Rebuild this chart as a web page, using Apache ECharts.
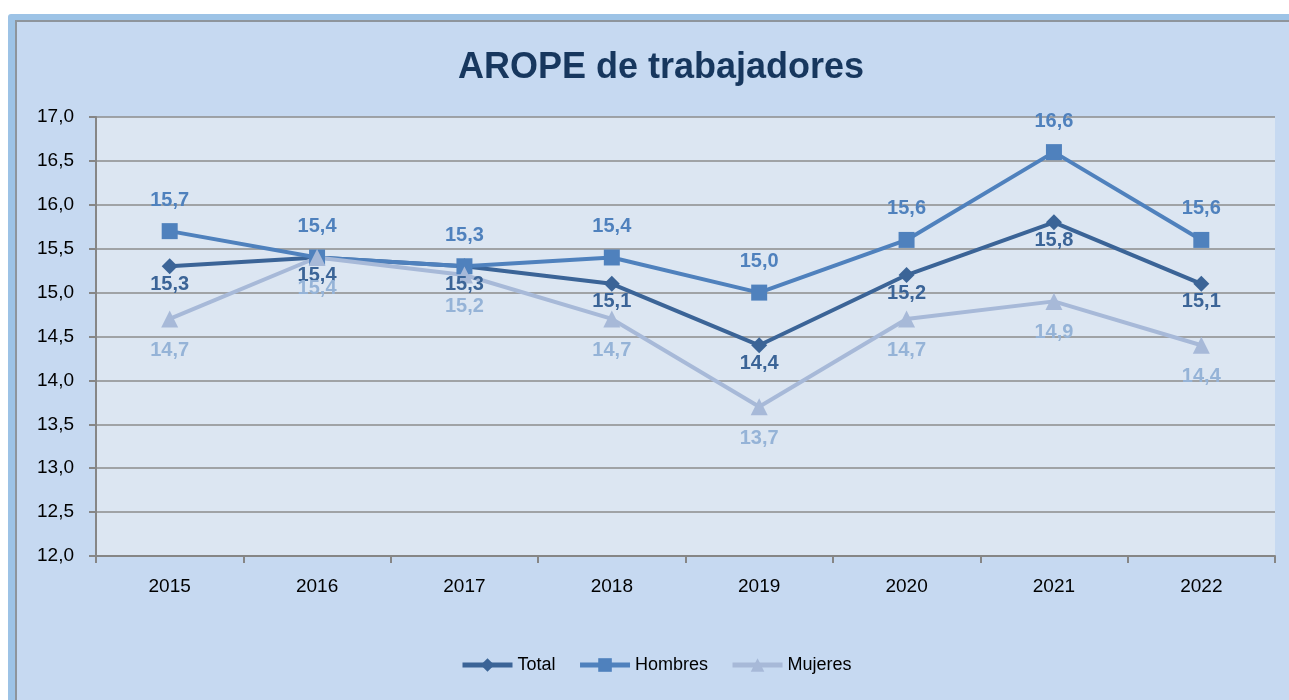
<!DOCTYPE html>
<html>
<head>
<meta charset="utf-8">
<script src="https://cdn.jsdelivr.net/npm/echarts@6/dist/echarts.min.js"></script>
<style>
  html, body { margin: 0; padding: 0; background: #fff; }
  .frame {
    position: absolute; left: 8px; top: 14px; width: 1300px; height: 700px;
    background: #9DC3E6; border-radius: 3px;
  }
  .inner {
    position: absolute; left: 7px; top: 6px; right: 0; bottom: 0;
    background: #C6D9F1; border-left: 2px solid #8E959C; border-top: 2px solid #8E959C;
  }
  #chart { position: absolute; left: 0; top: 0; width: 1289px; height: 700px; }
</style>
</head>
<body>
<div class="frame"><div class="inner"></div></div>
<div id="chart"></div>
<script>
var years = ['2015', '2016', '2017', '2018', '2019', '2020', '2021', '2022'];
var total = [15.3, 15.4, 15.3, 15.1, 14.4, 15.2, 15.8, 15.1];
var hombres = [15.7, 15.4, 15.3, 15.4, 15.0, 15.6, 16.6, 15.6];
var mujeres = [14.7, 15.4, 15.2, 14.7, 13.7, 14.7, 14.9, 14.4];

function coma(v) {
  return Number(v).toFixed(1).replace('.', ',');
}

var myChart = echarts.init(document.getElementById('chart'));
var fuente = 'Liberation Sans';

function linea(name, data, color, labelColor, symbol, size, pos, dist) {
  return {
    name: name,
    type: 'line',
    data: data,
    symbol: symbol,
    symbolSize: size,
    lineStyle: { color: color, width: 4 },
    itemStyle: { color: color },
    label: {
      show: true,
      position: pos,
      distance: dist,
      color: labelColor,
      fontFamily: fuente,
      fontWeight: 'bold',
      fontSize: 20,
      formatter: function (p) { return coma(p.value); }
    }
  };
}

var option = {
  animation: false,
  textStyle: { fontFamily: fuente },
  title: {
    text: 'AROPE de trabajadores',
    left: 453,
    top: 45,
    textStyle: { color: '#17375E', fontSize: 36, fontWeight: 'bold', fontFamily: fuente }
  },
  grid: { left: 96, top: 117, right: 14, bottom: 144, backgroundColor: '#DCE6F2', show: true, borderWidth: 0 },
  legend: {
    bottom: 21,
    left: 455,
    itemWidth: 50,
    itemHeight: 17,
    itemGap: 22,
    lineStyle: { width: 5 },
    textStyle: { color: '#000', fontSize: 18, fontFamily: fuente },
    data: ['Total', 'Hombres', 'Mujeres']
  },
  xAxis: {
    type: 'category',
    data: years,
    boundaryGap: true,
    axisLine: { lineStyle: { color: '#868686', width: 2 } },
    axisTick: { show: true, length: 7, lineStyle: { color: '#868686', width: 2 } },
    axisLabel: { color: '#000', fontSize: 19, margin: 21, fontFamily: fuente }
  },
  yAxis: {
    type: 'value',
    min: 12,
    max: 17,
    interval: 0.5,
    axisLine: { show: true, lineStyle: { color: '#868686', width: 2 } },
    axisTick: { show: true, length: 7, lineStyle: { color: '#868686', width: 2 } },
    splitLine: { lineStyle: { color: '#8C8C8C', width: 1.5 } },
    axisLabel: { color: '#000', fontSize: 19, margin: 22, fontFamily: fuente, formatter: coma }
  },
  series: [
    linea('Total', total, '#3B6497', '#3B6497', 'diamond', 16, 'bottom', 0),
    linea('Hombres', hombres, '#4F81BD', '#4F81BD', 'rect', 16, 'top', 13),
    linea('Mujeres', mujeres, '#A7B9D8', '#95B3D7', 'triangle', 17, 'bottom', 13)
  ]
};

myChart.setOption(option);
</script>
</body>
</html>
